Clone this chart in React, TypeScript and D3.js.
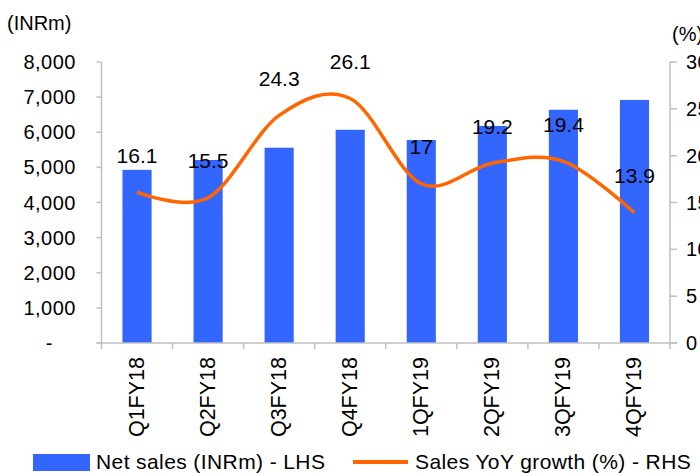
import React from "react";
import * as d3 from "d3";

const categories = ["Q1FY18", "Q2FY18", "Q3FY18", "Q4FY18", "1QFY19", "2QFY19", "3QFY19", "4QFY19"];
const netSales = [4930, 5210, 5560, 6070, 5780, 6180, 6640, 6920];
const yoyGrowth = [16.1, 15.5, 24.3, 26.1, 17, 19.2, 19.4, 13.9];
const leftTicks = [0, 1000, 2000, 3000, 4000, 5000, 6000, 7000, 8000];
const rightTicks = [0, 5, 10, 15, 20, 25, 30];

const W = 700;
const H = 473;
const FONT = "'Liberation Sans', Arial, Helvetica, sans-serif";
const BAR = "#3366FF";
const LINE = "#FF6600";
const AXIS = "#BFBFBF";

export default function App() {
  const left = 101.5;
  const right = 670;
  const top = 62;
  const bottom = 343;

  const x = d3.scaleBand<string>().domain(categories).range([left, right]).paddingInner(0.59).paddingOuter(0.295);
  const xb = d3.scaleBand<string>().domain(categories).range([left, right]);
  const yL = d3.scaleLinear().domain([0, 8000]).range([bottom, top]);
  const yR = d3.scaleLinear().domain([0, 30]).range([bottom, top]);
  const cx = (c: string) => (x(c) as number) + x.bandwidth() / 2;

  const pts: [number, number][] = categories.map((c, i) => [cx(c), yR(yoyGrowth[i])]);
  const linePath = d3.line().curve(d3.curveCatmullRom.alpha(0))(pts) || "";

  const fmt = d3.format(",");
  const boundaries = categories.map((c) => xb(c) as number).concat([right]);

  return (
    <svg width={W} height={H} style={{ position: "absolute", left: 0, top: 0, background: "#fff" }} fontFamily={FONT}>
      {/* bars */}
      {categories.map((c, i) => (
        <rect key={c} x={x(c)} y={yL(netSales[i])} width={x.bandwidth()} height={bottom - yL(netSales[i])} fill={BAR} />
      ))}

      {/* axes */}
      <g stroke={AXIS} strokeWidth={1.5} fill="none">
        <line x1={left} y1={top} x2={left} y2={bottom} />
        <line x1={right} y1={top} x2={right} y2={bottom} />
        <line x1={left - 5} y1={bottom} x2={right + 7} y2={bottom} />
        {leftTicks.map((t) => (
          <line key={"lt" + t} x1={left - 5} x2={left} y1={yL(t)} y2={yL(t)} />
        ))}
        {rightTicks.map((t) => (
          <line key={"rt" + t} x1={right} x2={right + 7} y1={yR(t)} y2={yR(t)} />
        ))}
        {boundaries.map((b, i) => (
          <line key={"bt" + i} x1={b} x2={b} y1={bottom} y2={bottom + 6} />
        ))}
      </g>

      {/* left tick labels */}
      {leftTicks.map((t) => (
        <text
          key={"ltl" + t}
          x={t === 0 ? 53 : 76}
          y={yL(t)}
          dy="0.35em"
          textAnchor="end"
          fontSize={20}
          letterSpacing={0.5}
          fill="#000"
        >
          {t === 0 ? "-" : fmt(t)}
        </text>
      ))}

      {/* right tick labels */}
      {rightTicks.map((t) => (
        <text key={"rtl" + t} x={686} y={yR(t)} dy="0.35em" textAnchor="start" fontSize={20} letterSpacing={0.5} fill="#000">
          {t}
        </text>
      ))}

      <text x={7} y={30} fontSize={20} fill="#000">(INRm)</text>
      <text x={672} y={41} fontSize={20} fill="#000">(%)</text>

      {/* category labels */}
      {categories.map((c) => (
        <text
          key={"cl" + c}
          transform={`translate(${cx(c) + 7},${357}) rotate(-90)`}
          textAnchor="end"
          fontSize={21.5}
          fill="#000"
        >
          {c}
        </text>
      ))}

      {/* line */}
      <path d={linePath} fill="none" stroke={LINE} strokeWidth={3.5} strokeLinejoin="round" />

      {/* data labels */}
      {categories.map((c, i) => (
        <text key={"dl" + c} x={cx(c)} y={yR(yoyGrowth[i]) - 37} dy="0.35em" textAnchor="middle" fontSize={21} fill="#000">
          {yoyGrowth[i]}
        </text>
      ))}

      {/* legend */}
      <rect x={33} y={454} width={57} height={17} fill={BAR} />
      <text x={96} y={469} fontSize={21} letterSpacing={0.4} fill="#000">Net sales (INRm) - LHS</text>
      <line x1={353} x2={408} y1={462} y2={462} stroke={LINE} strokeWidth={4} />
      <text x={415} y={469} fontSize={21} letterSpacing={0.4} fill="#000">Sales YoY growth (%) - RHS</text>
    </svg>
  );
}
